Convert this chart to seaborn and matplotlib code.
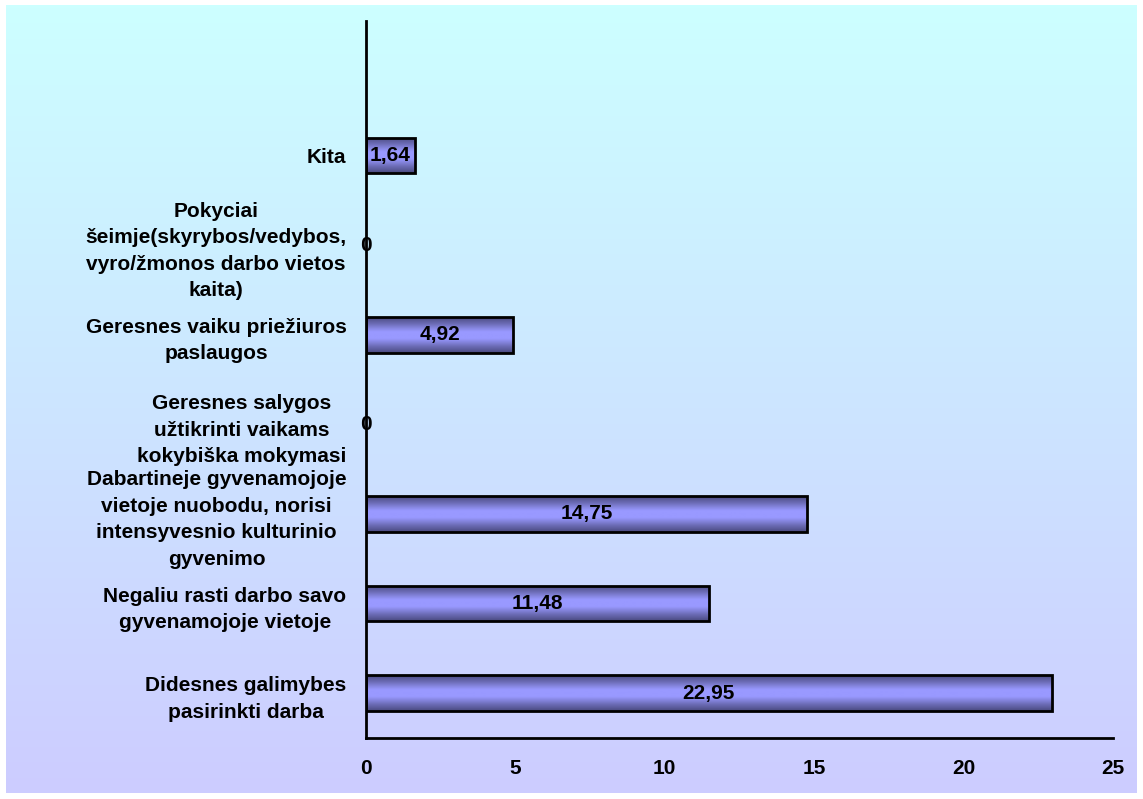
import numpy as np
import pandas as pd
import matplotlib
matplotlib.use("Agg")
import matplotlib.pyplot as plt
import seaborn as sns
from matplotlib.colors import LinearSegmentedColormap

categories = [
    "Kita",
    "Pokyciai\nšeimje(skyrybos/vedybos,\nvyro/žmonos darbo vietos\nkaita)",
    "Geresnes vaiku priežiuros\npaslaugos",
    "Geresnes salygos\nužtikrinti vaikams\nkokybiška mokymasi",
    "Dabartineje gyvenamojoje\nvietoje nuobodu, norisi\nintensyvesnio kulturinio\ngyvenimo",
    "Negaliu rasti darbo savo\ngyvenamojoje vietoje",
    "Didesnes galimybes\npasirinkti darba",
]
values = [1.64, 0, 4.92, 0, 14.75, 11.48, 22.95]
xticks = [0, 5, 10, 15, 20, 25]

sns.set_style("white")
plt.rcParams["font.family"] = ["Liberation Sans", "DejaVu Sans"]
plt.rcParams["font.weight"] = "bold"
plt.rcParams["text.color"] = "black"
plt.rcParams["xtick.color"] = "black"
plt.rcParams["ytick.color"] = "black"

W, H = 1143, 799
fig = plt.figure(figsize=(W / 100, H / 100), dpi=100)
fig.patch.set_facecolor("white")

# background gradient panel
bg = fig.add_axes([6 / W, (H - 793) / H, 1131 / W, 788 / H], zorder=0)
bg_cmap = LinearSegmentedColormap.from_list("bg", ["#CCFFFF", "#CCCCFF"])
bg.imshow(np.linspace(0, 1, 256).reshape(-1, 1), aspect="auto", cmap=bg_cmap,
          extent=(0, 1, 0, 1), origin="upper")
bg.set_axis_off()

ax = fig.add_axes([366 / W, (H - 738) / H, (1113 - 366) / W, (738 - 21) / H], zorder=1)
ax.patch.set_alpha(0)

df = pd.DataFrame({"cat": categories, "val": values})
order = [""] + categories
sns.barplot(data=df, x="val", y="cat", order=order, orient="h", ax=ax,
            width=0.4, color="#9999FF", edgecolor="black", linewidth=2, errorbar=None)

bar_cmap = LinearSegmentedColormap.from_list(
    "bar", ["#4A4A80", "#7070BC", "#9999FF", "#9999FF", "#7070BC", "#4A4A80"])
grad = np.linspace(0, 1, 64).reshape(-1, 1)
xlim = (0, 25)
for p in ax.containers[0]:
    x0, y0 = p.get_x(), p.get_y()
    w, h = p.get_width(), p.get_height()
    if w <= 0:
        p.set_visible(False)
        continue
    im = ax.imshow(grad, cmap=bar_cmap, aspect="auto",
                   extent=(x0, x0 + w, y0 + h, y0), zorder=2.5, interpolation="bilinear")
    im.set_clip_path(p)
    p.set_facecolor("none")
    p.set_zorder(3)

labels = [f"{v:g}".replace(".", ",") for v in values]
ax.bar_label(ax.containers[0], labels=labels, label_type="center",
             fontsize=15, fontweight="bold", color="black", zorder=4)

ax.set_xlim(*xlim)
ax.set_ylim(len(order) - 0.5, -0.5)
ax.set_xticks(xticks)
ax.set_xlabel("")
ax.set_ylabel("")
for s in ["top", "right"]:
    ax.spines[s].set_visible(False)
for s in ["left", "bottom"]:
    ax.spines[s].set_linewidth(2)
    ax.spines[s].set_color("black")
ax.tick_params(axis="x", direction="out", length=6, width=2, pad=9, labelsize=15,
               labelcolor="black")
ax.tick_params(axis="y", length=0, pad=14, labelsize=15, labelcolor="black")
for t in ax.get_xticklabels():
    t.set_fontweight("bold")
for t in ax.get_yticklabels():
    t.set_fontweight("bold")
    t.set_multialignment("center")
    t.set_linespacing(1.5)

fig.savefig("out.png", dpi=100)
